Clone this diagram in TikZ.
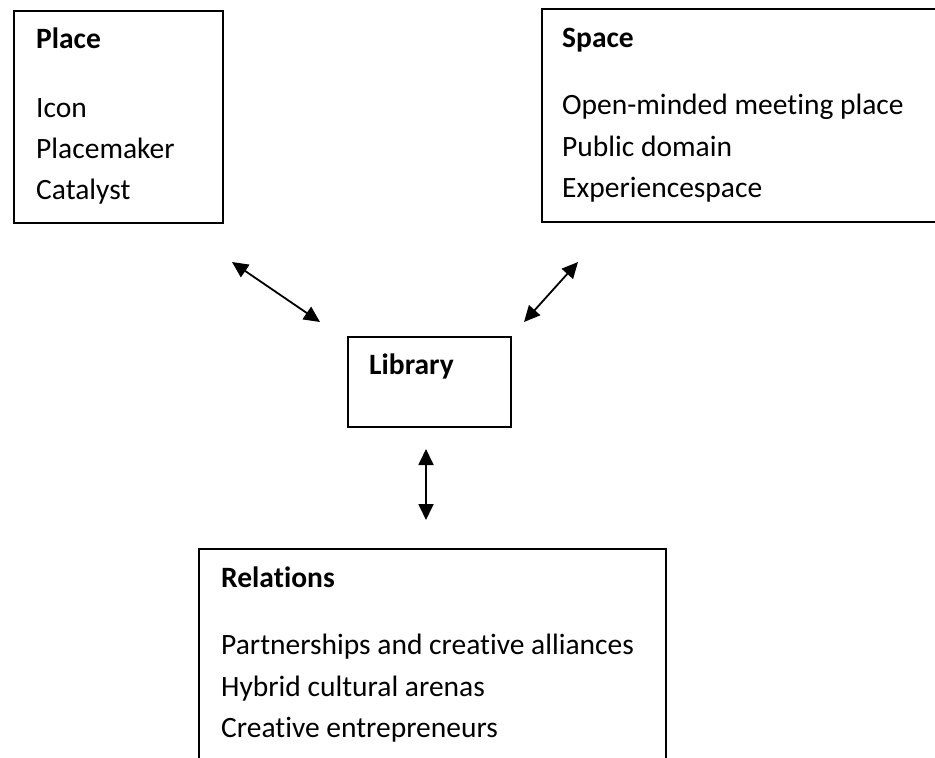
\documentclass[tikz,border=0pt]{standalone}
\usepackage{fontspec}
\setmainfont{Carlito}[Ligatures=NoCommon]
\usetikzlibrary{arrows.meta}
\tikzset{
    every node/.style={inner sep=0mm, font=\fontsize{29.5}{41}\selectfont}
}
\tikzset{box/.style={draw, line width=1.6pt, rectangle, anchor=north west}}
\tikzset{head/.style={anchor=base west, font=\fontsize{29.5}{41}\selectfont\bfseries}}
\tikzset{item/.style={anchor=base west}}
\tikzset{link/.style={{Triangle[length=16pt,width=15pt]}-{Triangle[length=16pt,width=15pt]}, line width=1.8pt}}

\begin{document}
\begin{tikzpicture}[x=1pt, y=-1pt]
        \useasboundingbox (0,0) rectangle (935,758);
        \clip (0,0) rectangle (935,758);
        \node (place) [box, minimum width=209pt, minimum height=212pt] at (13,10) {};
        \node (space) [box, minimum width=420pt, minimum height=213pt] at (541,8) {};
        \node (library) [box, minimum width=163pt, minimum height=90pt] at (347,336) {};
        \node (relations) [box, minimum width=467pt, minimum height=240pt] at (198,548) {};
        \node (placehead) [head] at (36,48) {Place};
        \node (p1) [item] at (36,117) {Icon};
        \node (p2) [item] at (36,158) {Placemaker};
        \node (p3) [item] at (36,199) {Catalyst};
        \node (spacehead) [head] at (562,47) {Space};
        \node (s1) [item] at (562,114) {Open-minded meeting place};
        \node (s2) [item] at (562,156) {Public domain};
        \node (s3) [item] at (562,197) {Experiencespace};
        \node (libraryhead) [head] at (369,374) {Library};
        \node (relationshead) [head] at (221,587) {Relations};
        \node (r1) [item] at (221,654) {Partnerships and creative alliances};
        \node (r2) [item] at (221,696) {Hybrid cultural arenas};
        \node (r3) [item] at (221,737) {Creative entrepreneurs};
        \coordinate (c0) at (232,262);
        \coordinate (c1) at (320,322);
        \coordinate (c2) at (578,262);
        \coordinate (c3) at (524,322);
        \coordinate (c4) at (426,449);
        \coordinate (c5) at (426,520);
        \draw (c0) edge [link] (c1);
        \draw (c2) edge [link] (c3);
        \draw (c4) edge [link] (c5);
\end{tikzpicture}
\end{document}
